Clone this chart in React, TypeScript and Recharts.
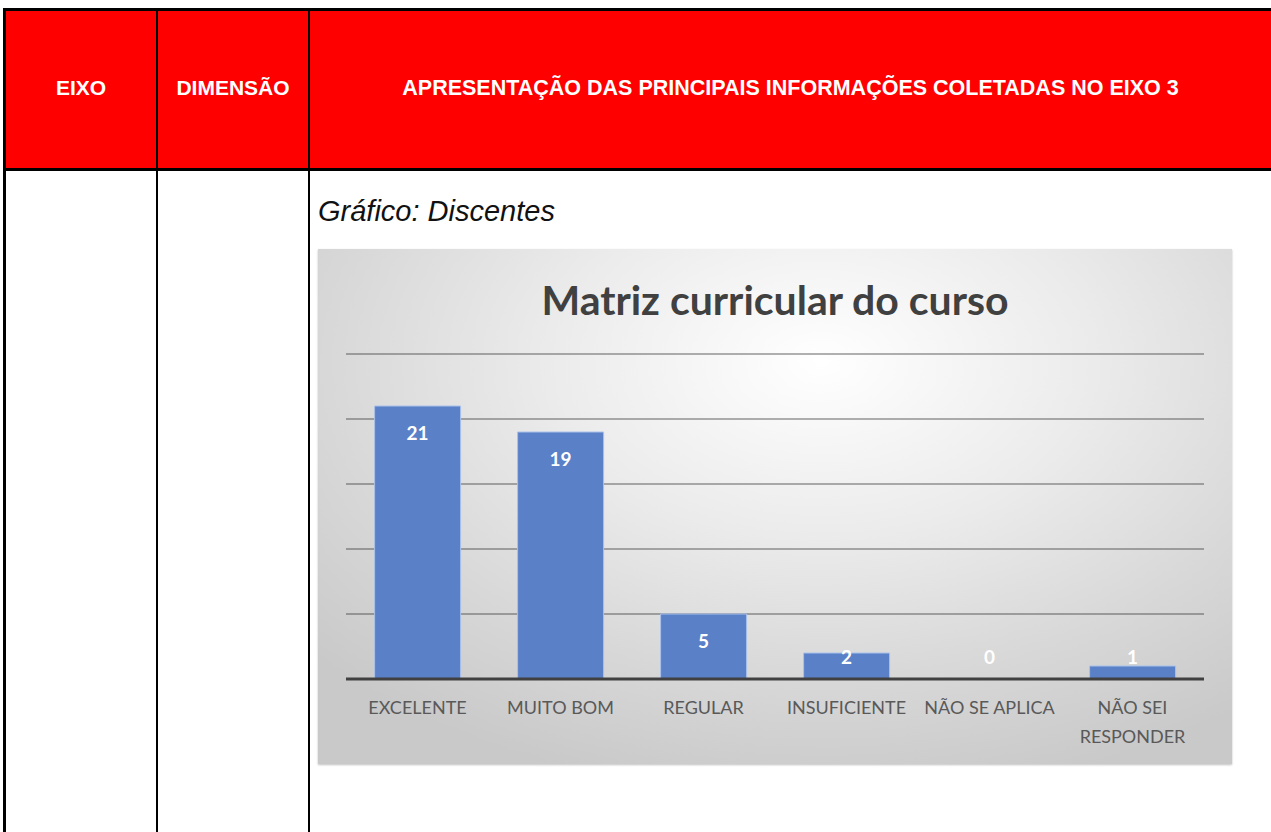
import { BarChart, Bar, XAxis, YAxis, CartesianGrid, Rectangle } from 'recharts';

const categories = ['EXCELENTE', 'MUITO BOM', 'REGULAR', 'INSUFICIENTE', 'NÃO SE APLICA', 'NÃO SEI RESPONDER'];
const respostas = [21, 19, 5, 2, 0, 1];
const yTicks = [0, 5, 10, 15, 20, 25];

const headerCols = ['EIXO', 'DIMENSÃO', 'APRESENTAÇÃO DAS PRINCIPAIS INFORMAÇÕES COLETADAS NO EIXO 3'];

const chartData = categories.map((name, i) => ({ name, value: respostas[i] }));

const CHART_FONT = 'Lato, "Open Sans", sans-serif';

// wrap long category names into lines of at most 14 chars
function wrap(text: string, max = 14): string[] {
  const words = text.split(' ');
  const lines: string[] = [];
  let cur = '';
  for (const w of words) {
    const next = cur ? cur + ' ' + w : w;
    if (next.length > max && cur) {
      lines.push(cur);
      cur = w;
    } else {
      cur = next;
    }
  }
  if (cur) lines.push(cur);
  return lines;
}

const CategoryTick = (props: any) => {
  const { x, y, payload } = props;
  const lines = wrap(String(payload.value));
  return (
    <g transform={`translate(${x},${y})`}>
      {lines.map((line, i) => (
        <text
          key={i}
          x={0}
          y={i * 29}
          dy={27}
          textAnchor="middle"
          fill="#595959"
          fontSize={18}
          fontFamily={CHART_FONT}
        >
          {line}
        </text>
      ))}
    </g>
  );
};

// bar + value label; label sits inside the top of the bar, or just above the axis for short bars
const BarWithLabel = (props: any) => {
  const { x, y, width, height, value } = props;
  const v = Array.isArray(value) ? value[1] - value[0] : value;
  const cy = Math.min(y + 26, y + height - 23);
  return (
    <g>
      {height > 0 && <Rectangle {...props} />}
      <text
        x={x + width / 2}
        y={cy}
        textAnchor="middle"
        dominantBaseline="central"
        fill="#ffffff"
        fontSize={19}
        fontWeight={700}
        fontFamily={CHART_FONT}
      >
        {v}
      </text>
    </g>
  );
};

const border = '#000';

export default function App() {
  return (
    <div
      style={{
        position: 'absolute',
        left: 0,
        top: 0,
        width: 1271,
        height: 832,
        overflow: 'hidden',
        background: '#fff',
        fontFamily: '"Liberation Sans", Arial, sans-serif',
      }}
    >
      {/* header row */}
      <div
        style={{
          position: 'absolute',
          left: 3,
          top: 8,
          width: 1290,
          height: 157,
          background: '#ff0000',
          borderTop: `3px solid ${border}`,
          borderBottom: `3px solid ${border}`,
          borderLeft: `3px solid ${border}`,
        }}
      />
      {/* column separators */}
      <div style={{ position: 'absolute', left: 156, top: 8, width: 2, height: 830, background: border }} />
      <div style={{ position: 'absolute', left: 308, top: 8, width: 2, height: 830, background: border }} />
      <div style={{ position: 'absolute', left: 3, top: 8, width: 3, height: 830, background: border }} />

      {[
        { left: 6, width: 150 },
        { left: 158, width: 150 },
        { left: 310, width: 961 },
      ].map((c, i) => (
        <div
          key={i}
          style={{
            position: 'absolute',
            left: c.left,
            top: 11,
            width: c.width,
            height: 154,
            display: 'flex',
            alignItems: 'center',
            justifyContent: 'center',
            color: '#fff',
            fontWeight: 700,
            fontSize: i === 2 ? 21.5 : 21,
            whiteSpace: 'nowrap',
          }}
        >
          {headerCols[i]}
        </div>
      ))}

      <div
        style={{
          position: 'absolute',
          left: 318,
          top: 195,
          fontStyle: 'italic',
          fontSize: 29,
          color: '#111',
          whiteSpace: 'nowrap',
        }}
      >
        Gráfico: Discentes
      </div>

      {/* chart */}
      <div
        style={{
          position: 'absolute',
          left: 318,
          top: 249,
          width: 914,
          height: 515,
          background:
            'radial-gradient(ellipse 75% 85% at 55% 22%, #ffffff 0%, #ebebeb 40%, #d8d8d8 72%, #c9c9c9 100%)',
          boxShadow: '0 1px 2px rgba(0,0,0,0.25)',
        }}
      >
        <div
          style={{
            position: 'absolute',
            left: 0,
            top: 26,
            width: 914,
            textAlign: 'center',
            fontFamily: CHART_FONT,
            fontWeight: 700,
            fontSize: 41,
            color: '#404040',
          }}
        >
          Matriz curricular do curso
        </div>
        <BarChart
          width={914}
          height={515}
          data={chartData}
          margin={{ top: 105, right: 28, bottom: 55, left: 28 }}
          barCategoryGap="20%"
        >
          <CartesianGrid vertical={false} stroke="rgba(60,60,60,0.4)" strokeWidth={2} />
          <YAxis hide domain={[0, 25]} ticks={yTicks} />
          <XAxis
            dataKey="name"
            interval={0}
            height={30}
            tickLine={false}
            axisLine={{ stroke: '#404040', strokeWidth: 3 }}
            tick={<CategoryTick />}
          />
          <Bar
            dataKey="value"
            fill="#5a80c8"
            stroke="#a9c1ea"
            strokeWidth={1}
            isAnimationActive={false}
            shape={<BarWithLabel />}
          />
        </BarChart>
      </div>
    </div>
  );
}
